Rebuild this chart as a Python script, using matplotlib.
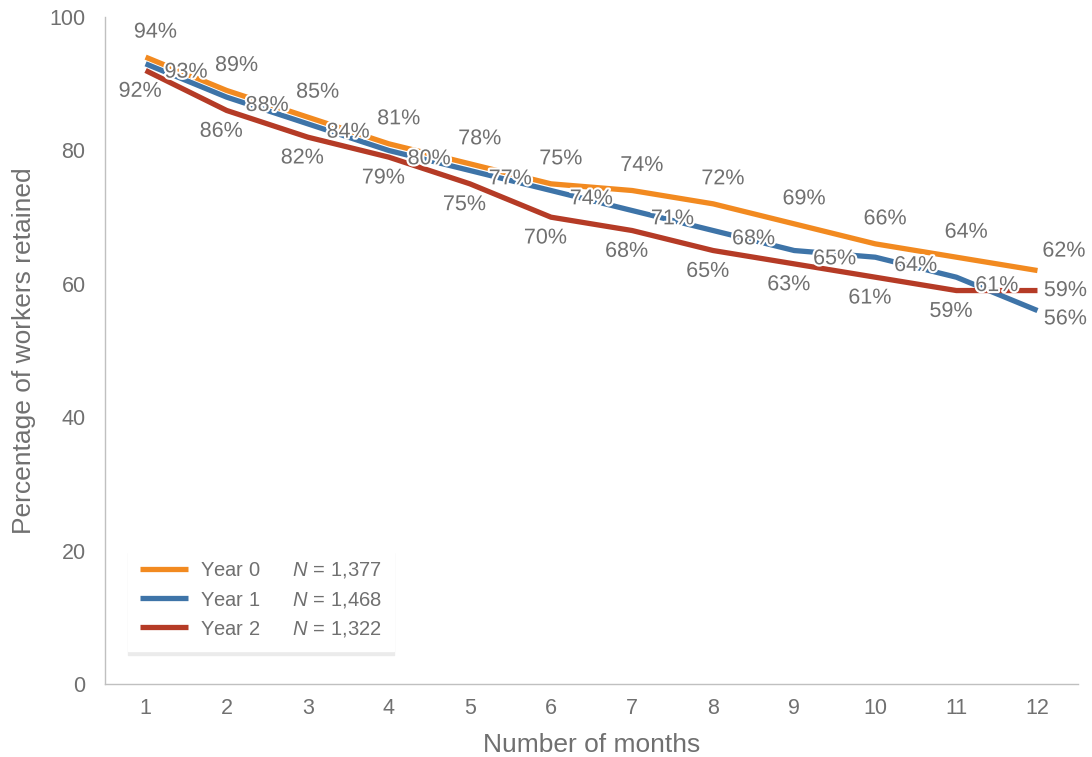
import matplotlib
matplotlib.use('Agg')
import matplotlib.pyplot as plt
import matplotlib.patheffects as pe

plt.rcParams['font.family'] = ['Liberation Sans', 'DejaVu Sans']
plt.rcParams['mathtext.fontset'] = 'custom'
plt.rcParams['mathtext.it'] = 'Liberation Sans:italic'
plt.rcParams['mathtext.rm'] = 'Liberation Sans'

months = [1, 2, 3, 4, 5, 6, 7, 8, 9, 10, 11, 12]
year0 = [94, 89, 85, 81, 78, 75, 74, 72, 69, 66, 64, 62]
year1 = [93, 88, 84, 80, 77, 74, 71, 68, 65, 64, 61, 56]
year2 = [92, 86, 82, 79, 75, 70, 68, 65, 63, 61, 59, 59]
names = ['Year 0', 'Year 1', 'Year 2']
counts = ['1,377', '1,468', '1,322']
colors = ['#F28A20', '#3E74A8', '#B53B26']

gray = '#707070'

fig = plt.figure(figsize=(10.92, 7.57), dpi=100)
ax = fig.add_axes([0.0962, 0.0964, 0.891, 0.881])

# label offsets (points): regular points, last point
offsets = [((7, 18), (19, 14)), ((29, -6), (20, -6)), ((-4, -15), (20, 0))]

for vals, name, n, c, (off, off_last) in zip([year0, year1, year2], names, counts, colors, offsets):
    ax.plot(months, vals, color=c, lw=3.8, solid_capstyle='butt',
            label=name + '      $N$ = ' + n)
    for i, (m, v) in enumerate(zip(months, vals)):
        o = off_last if i == len(months) - 1 else off
        t = ax.annotate('%d%%' % v, (m, v), xytext=o, textcoords='offset points',
                        ha='center', va='center', fontsize=15.5, color=gray, zorder=5)
        t.set_path_effects([pe.withStroke(linewidth=3, foreground='white')])

ax.set_xlim(0.5, 12.5)
ax.set_ylim(0, 100)
ax.set_xticks(months)
ax.set_yticks([0, 20, 40, 60, 80, 100])
ax.tick_params(length=0, labelsize=15.5, labelcolor=gray)
ax.tick_params(axis='y', pad=14)
ax.tick_params(axis='x', pad=10)
for s in ['top', 'right']:
    ax.spines[s].set_visible(False)
for s in ['left', 'bottom']:
    ax.spines[s].set_color('#c0c0c0')
    ax.spines[s].set_linewidth(1)

ax.set_xlabel('Number of months', fontsize=19, color=gray, labelpad=10)
ax.set_ylabel('Percentage of workers retained', fontsize=19, color=gray, labelpad=10)

leg = ax.legend(loc='lower left', bbox_to_anchor=(0.024, 0.05), fontsize=14.5,
                frameon=True, fancybox=False, handlelength=2.35, handletextpad=0.6,
                borderpad=0.6, labelspacing=0.45, borderaxespad=0,
                shadow={'ox': 0, 'oy': -3, 'color': '#ebebeb', 'alpha': 1})
leg.get_frame().set_edgecolor('white')
for t in leg.get_texts():
    t.set_color(gray)

fig.savefig('out.png', dpi=100)
